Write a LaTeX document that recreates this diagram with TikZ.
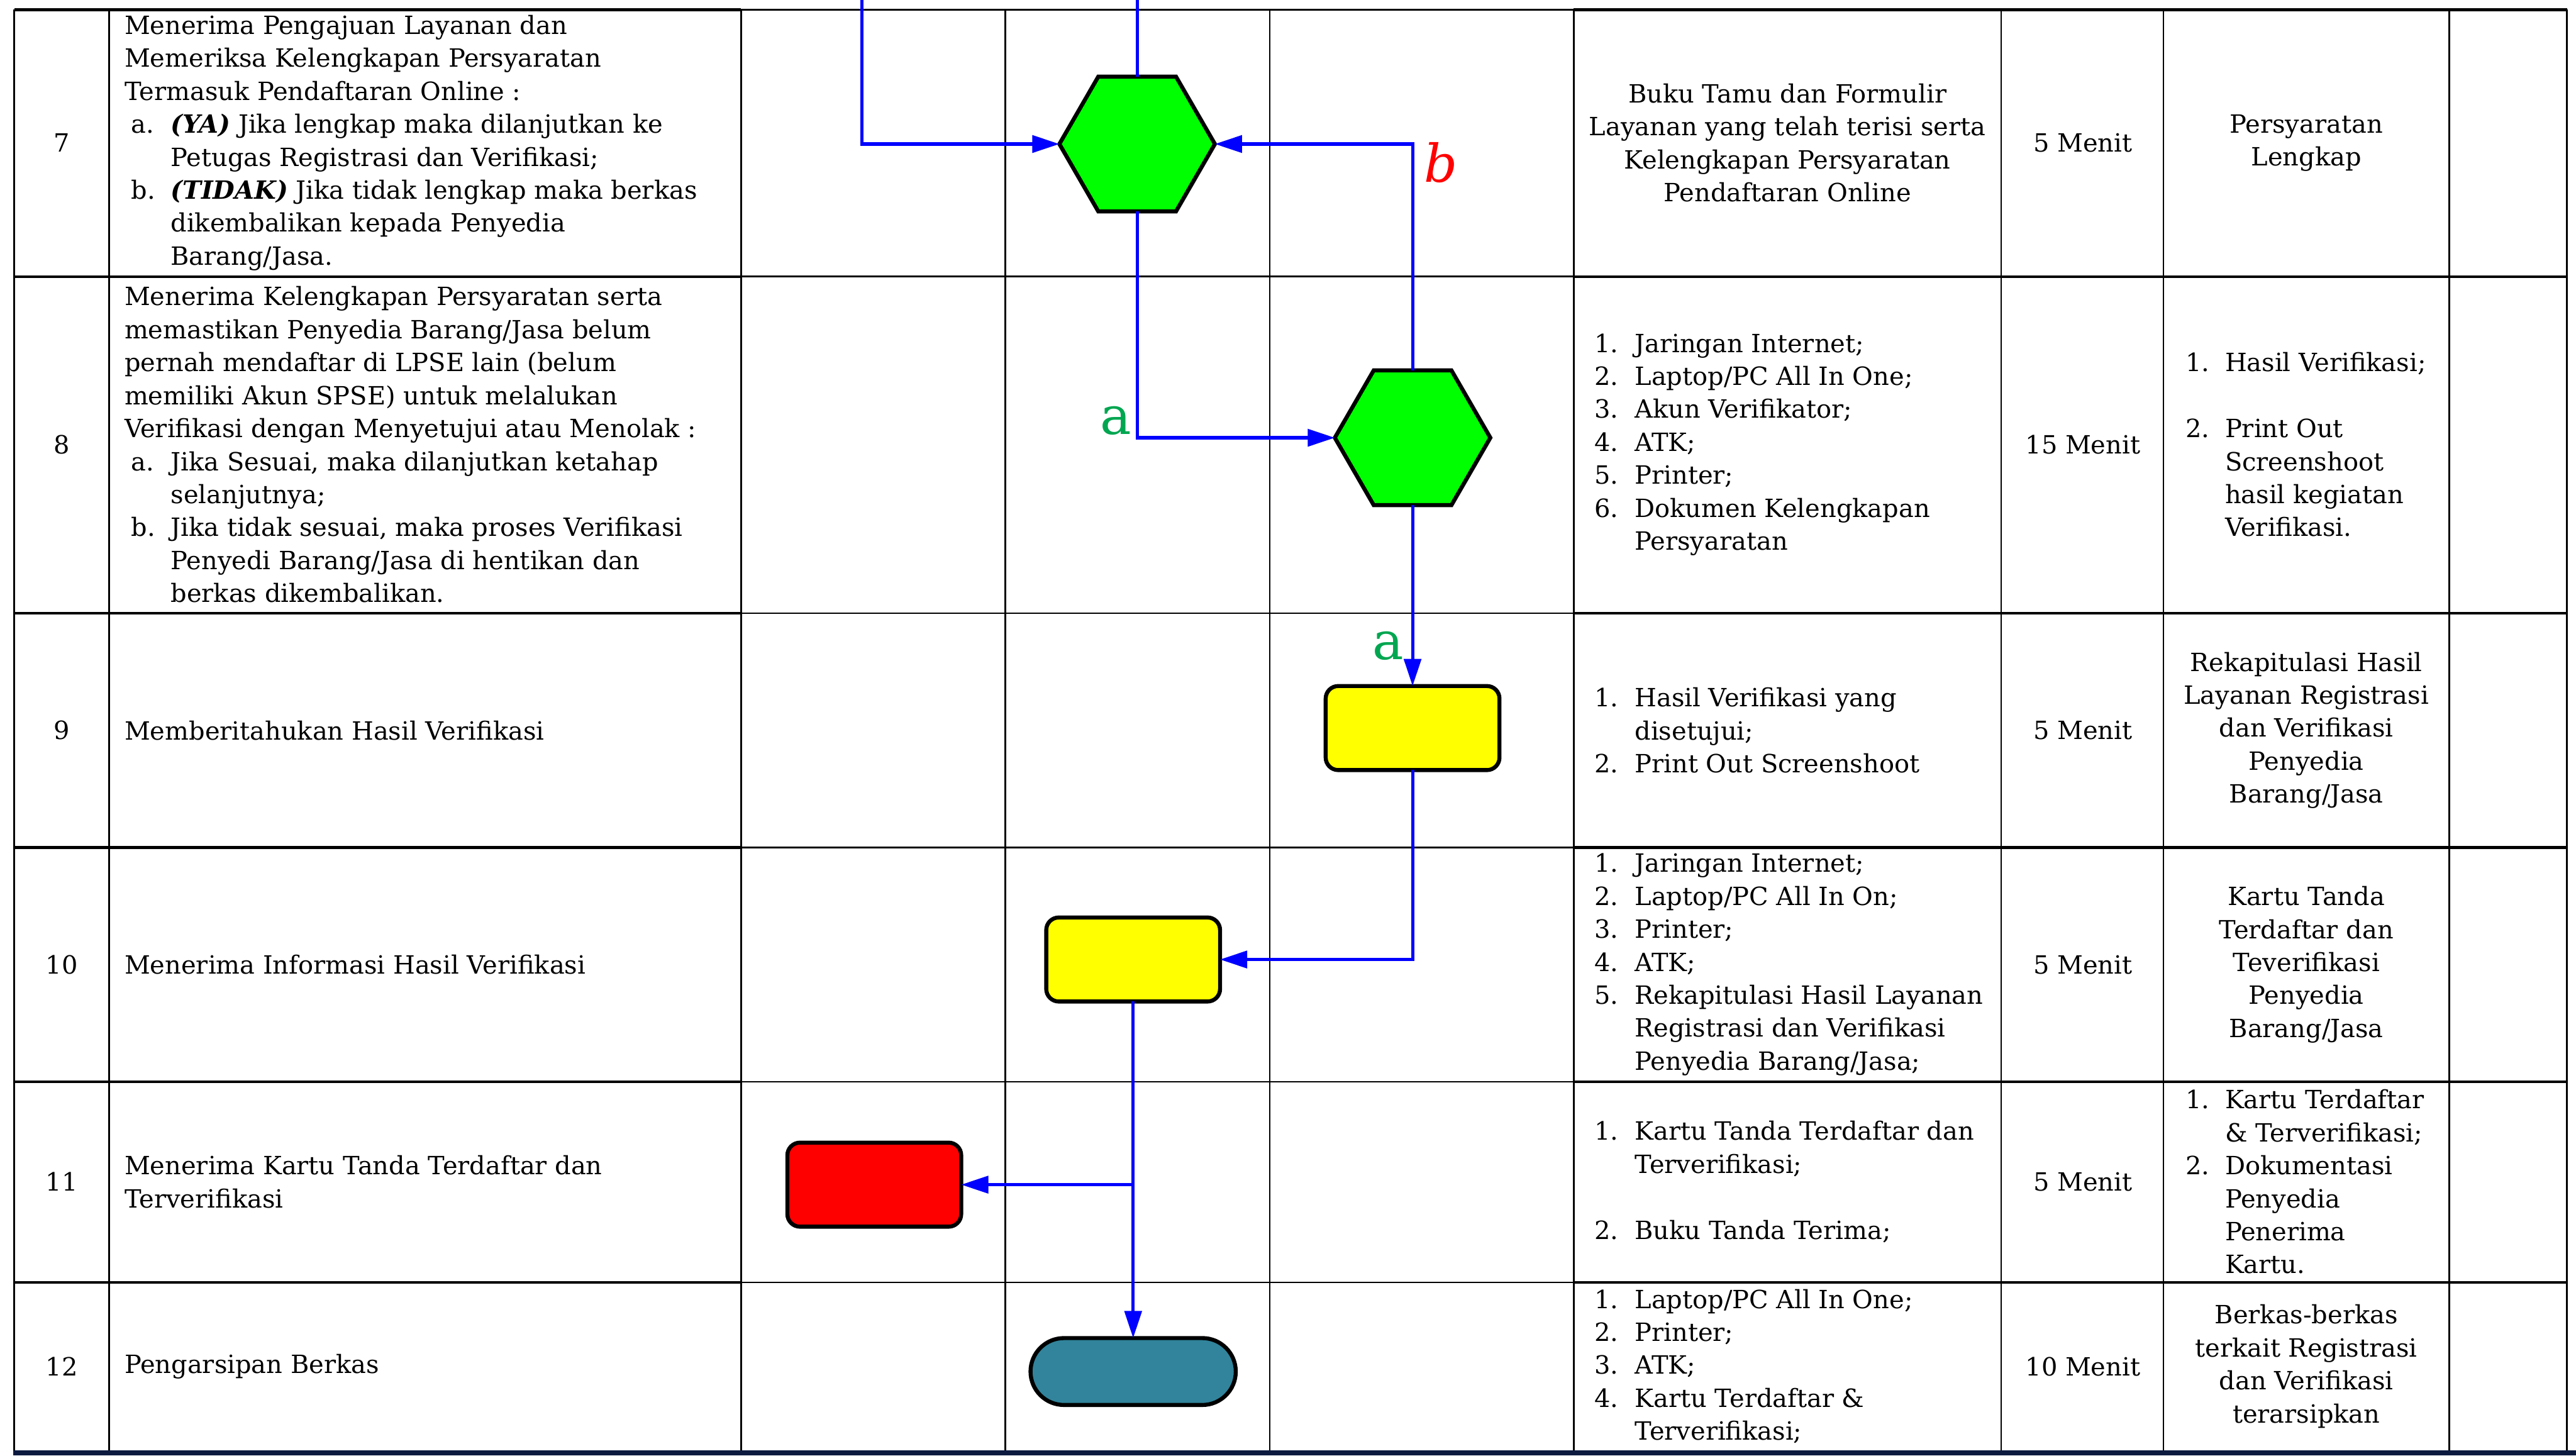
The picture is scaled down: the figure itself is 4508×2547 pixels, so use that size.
\documentclass[tikz,border=0pt]{standalone}
\usepackage{fontspec}
\setmainfont{DejaVu Serif}
\usetikzlibrary{shapes.geometric,arrows.meta,calc}
\definecolor{flowblue}{RGB}{0,0,255}
\definecolor{hexgreen}{RGB}{0,255,0}
\definecolor{boxyellow}{RGB}{255,255,0}
\definecolor{boxred}{RGB}{255,0,0}
\definecolor{termteal}{RGB}{49,132,155}
\definecolor{labgreen}{RGB}{0,166,80}
\definecolor{labred}{RGB}{255,0,0}
\definecolor{navyband}{RGB}{12,26,64}
\newcommand{\la}[1]{\hspace*{3.4pt}\makebox[19.6pt][l]{#1}}
\newcommand{\hg}{\hspace*{23pt}}
\newcommand{\ra}[1]{\makebox[20.2pt][l]{#1}}
\newcommand{\rh}{\hspace*{20.2pt}}
\tikzset{
  tthick/.style={line width=1.3pt, black},
  tthin/.style={line width=0.9pt, black},
  flow/.style={draw=flowblue, line width=1.6pt},
  arr/.style={-{Triangle[length=13.5pt,width=8.5pt]}},
  hexa/.style={regular polygon, regular polygon sides=6, minimum size=2.72cm,
    inner sep=0pt, outer sep=0pt, draw=black, line width=2pt, fill=hexgreen},
  procbox/.style={rectangle, rounded corners=0.22cm, minimum width=3.04cm,
    minimum height=1.47cm, inner sep=0pt, outer sep=0pt, draw=black, line width=2pt},
  termbox/.style={rectangle, rounded corners=0.585cm, minimum width=3.59cm,
    minimum height=1.17cm, inner sep=0pt, outer sep=0pt, draw=black, line width=2pt, fill=termteal},
  txt/.style={inner sep=0pt, outer sep=0pt, font=\fontsize{12.5}{16.4}\selectfont, align=left},
  ctxt/.style={inner sep=0pt, outer sep=0pt, font=\fontsize{12.5}{16.4}\selectfont, align=center},
  lbl/.style={inner sep=0pt, outer sep=0pt, font=\fontsize{26}{30}\selectfont},
}
\begin{document}
\begin{tikzpicture}[x=0.01cm,y=-0.01cm]
\useasboundingbox (0,0) rectangle (4508,2547);
\fill[white] (0,0) rectangle (4508,2547);
% ---------- table grid ----------
\foreach \yy in {17,484,1073,1483,1893,2244} {
  \draw[tthick] (25,\yy) -- (1297,\yy);
  \draw[tthin] (1297,\yy) -- (2754,\yy);
  \draw[tthick] (2754,\yy) -- (4492,\yy);
}
\foreach \xx in {25,191,1297,1759,2222,2754,3502,3786,4286,4492} {
  \draw[tthin] (\xx,17) -- (\xx,2540);
}
\fill[navyband] (23,2538) rectangle (4508,2547);
% ---------- row numbers ----------
\node[ctxt] (n7) at (108,250) {7};
\node[ctxt] (n8) at (108,778) {8};
\node[ctxt] (n9) at (108,1278) {9};
\node[ctxt] (n10) at (108,1688) {10};
\node[ctxt] (n11) at (108,2068) {11};
\node[ctxt] (n12) at (108,2391) {12};
% ---------- descriptions ----------
\node[txt,anchor=west] (d7) at (218,250) {Menerima Pengajuan Layanan dan\\
Memeriksa Kelengkapan Persyaratan\\
Termasuk Pendaftaran Online :\\
\la{a.}\textbf{\textit{(YA)}} Jika lengkap maka dilanjutkan ke\\
\hg Petugas Registrasi dan Verifikasi;\\
\la{b.}\textbf{\textit{(TIDAK)}} Jika tidak lengkap maka berkas\\
\hg dikembalikan kepada Penyedia\\
\hg Barang/Jasa.};
\node[txt,anchor=west] (d8) at (218,778) {Menerima Kelengkapan Persyaratan serta\\
memastikan Penyedia Barang/Jasa belum\\
pernah mendaftar di LPSE lain (belum\\
memiliki Akun SPSE) untuk melalukan\\
Verifikasi dengan Menyetujui atau Menolak :\\
\la{a.}Jika Sesuai, maka dilanjutkan ketahap\\
\hg selanjutnya;\\
\la{b.}Jika tidak sesuai, maka proses Verifikasi\\
\hg Penyedi Barang/Jasa di hentikan dan\\
\hg berkas dikembalikan.};
\node[txt,anchor=west] (d9) at (218,1278) {Memberitahukan Hasil Verifikasi};
\node[txt,anchor=west] (d10) at (218,1688) {Menerima Informasi Hasil Verifikasi};
\node[txt,anchor=west] (d11) at (218,2068) {Menerima Kartu Tanda Terdaftar dan\\Terverifikasi};
\node[txt,anchor=west] (d12) at (218,2391) {Pengarsipan Berkas};
% ---------- resources ----------
\node[ctxt] (s7) at (3128,250) {Buku Tamu dan Formulir\\Layanan yang telah terisi serta\\Kelengkapan Persyaratan\\Pendaftaran Online};
\node[txt,anchor=west] (s8) at (2790,778) {\ra{1.}Jaringan Internet;\\
\ra{2.}Laptop/PC All In One;\\
\ra{3.}Akun Verifikator;\\
\ra{4.}ATK;\\
\ra{5.}Printer;\\
\ra{6.}Dokumen Kelengkapan\\
\rh Persyaratan};
\node[txt,anchor=west] (s9) at (2790,1278) {\ra{1.}Hasil Verifikasi yang\\
\rh disetujui;\\
\ra{2.}Print Out Screenshoot};
\node[txt,anchor=west] (s10) at (2790,1688) {\ra{1.}Jaringan Internet;\\
\ra{2.}Laptop/PC All In On;\\
\ra{3.}Printer;\\
\ra{4.}ATK;\\
\ra{5.}Rekapitulasi Hasil Layanan\\
\rh Registrasi dan Verifikasi\\
\rh Penyedia Barang/Jasa;};
\node[txt,anchor=west] (s11) at (2790,2068) {\ra{1.}Kartu Tanda Terdaftar dan\\
\rh Terverifikasi;\\
\mbox{}\\
\ra{2.}Buku Tanda Terima;};
\node[txt,anchor=west] (s12) at (2790,2391) {\ra{1.}Laptop/PC All In One;\\
\ra{2.}Printer;\\
\ra{3.}ATK;\\
\ra{4.}Kartu Terdaftar \&\\
\rh Terverifikasi;};
% ---------- time ----------
\node[ctxt] (w7) at (3645,250) {5 Menit};
\node[ctxt] (w8) at (3645,778) {15 Menit};
\node[ctxt] (w9) at (3645,1278) {5 Menit};
\node[ctxt] (w10) at (3645,1688) {5 Menit};
\node[ctxt] (w11) at (3645,2068) {5 Menit};
\node[ctxt] (w12) at (3645,2391) {10 Menit};
% ---------- outputs ----------
\node[ctxt] (o7) at (4036,250) {Persyaratan\\Lengkap};
\node[txt,anchor=west] (o8) at (3825,778) {\makebox[19.6pt][l]{1.}Hasil Verifikasi;\\
\mbox{}\\
\makebox[19.6pt][l]{2.}Print Out\\
\hspace*{19.6pt}Screenshoot\\
\hspace*{19.6pt}hasil kegiatan\\
\hspace*{19.6pt}Verifikasi.};
\node[ctxt] (o9) at (4036,1278) {Rekapitulasi Hasil\\Layanan Registrasi\\dan Verifikasi\\Penyedia\\Barang/Jasa};
\node[ctxt] (o10) at (4036,1688) {Kartu Tanda\\Terdaftar dan\\Teverifikasi\\Penyedia\\Barang/Jasa};
\node[txt,anchor=west] (o11) at (3825,2068) {\makebox[19.6pt][l]{1.}Kartu Terdaftar\\
\hspace*{19.6pt}\& Terverifikasi;\\
\makebox[19.6pt][l]{2.}Dokumentasi\\
\hspace*{19.6pt}Penyedia\\
\hspace*{19.6pt}Penerima\\
\hspace*{19.6pt}Kartu.};
\node[ctxt] (o12) at (4036,2391) {Berkas-berkas\\terkait Registrasi\\dan Verifikasi\\terarsipkan};
% ---------- flow shapes ----------
\coordinate (top1) at (1508,0);
\coordinate (top2) at (1990,0);
\node[hexa] (h1) at (1990,252) {};
\node[hexa] (h2) at (2472,766) {};
\node[procbox, fill=boxyellow] (y1) at (2472,1274) {};
\node[procbox, fill=boxyellow] (y2) at (1983,1679) {};
\node[procbox, fill=boxred] (r1) at (1530,2073) {};
\node[termbox] (t1) at (1983,2400) {};
% ---------- connectors ----------
\draw[flow,arr] (top1) |- (h1.west);
\draw[flow] (top2) -- (h1.north);
\draw[flow,arr] (h1.south) |- (h2.west);
\draw[flow,arr] (h2.north) |- (h1.east);
\draw[flow,arr] (h2.south) -- (y1.north);
\draw[flow,arr] (y1.south) |- (y2.east);
\draw[flow,arr] (y2.south) -- (t1.north);
\coordinate (br) at (y2.south |- r1.east);
\draw[flow,arr] (br) -- (r1.east);
% ---------- labels ----------
\coordinate (ca) at (h1.south |- h2.west);
\coordinate (cb) at (h2.north |- h1.east);
\node[lbl, text=labgreen, anchor=base east] (la1) at ($(ca)+(-10,-6)$) {a};
\node[lbl, text=labred, anchor=base west] (lb) at ($(cb)+(20,67)$) {\itshape b};
\node[lbl, text=labgreen, anchor=base east] (la2) at ($(y1.north)+(-15,-46)$) {a};
\end{tikzpicture}
\end{document}
